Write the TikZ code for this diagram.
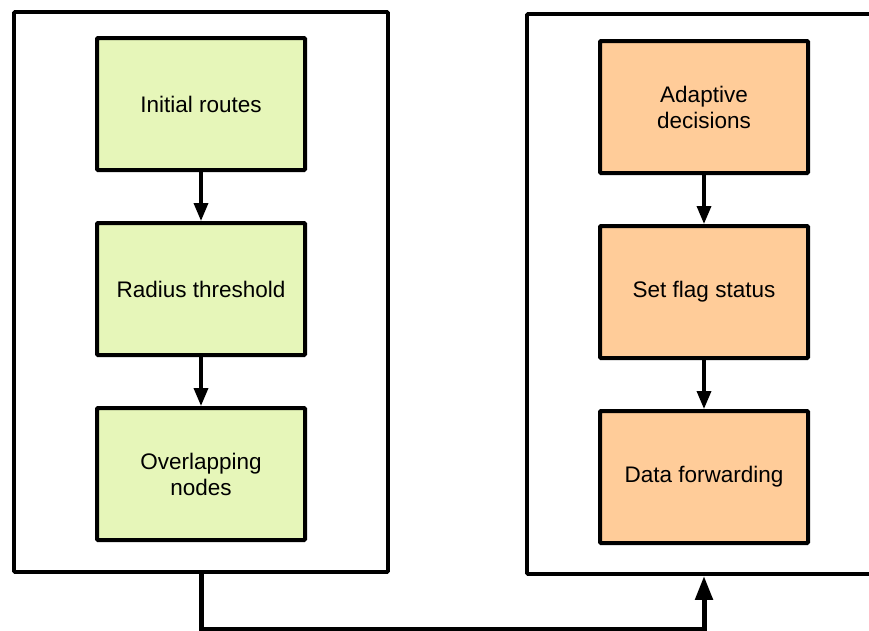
\documentclass[tikz,border=0pt]{standalone}
\usepackage{fontspec}
\setmainfont{Liberation Sans}
\usetikzlibrary{arrows.meta}
\definecolor{greenfill}{HTML}{E6F6B9}
\definecolor{orangefill}{HTML}{FFCC99}
\tikzset{
  outerbox/.style={draw, line width=3.8pt, rounded corners=1pt, inner sep=0pt},
  stepbox/.style={draw, line width=4pt, rounded corners=1pt, minimum width=208pt, minimum height=132pt, inner sep=0pt, align=center, font=\fontsize{22.5pt}{26pt}\selectfont},
  gbox/.style={stepbox, fill=greenfill},
  obox/.style={stepbox, fill=orangefill},
  flow/.style={line width=3.5pt, -{Triangle[length=18pt,width=14pt]}},
  bigflow/.style={line width=5pt, -{Triangle[length=24pt,width=17pt]}}
}
\begin{document}
\begin{tikzpicture}[x=1pt,y=-1pt]
\useasboundingbox (0,0) rectangle (869,630);
\clip (0,0) rectangle (869,630);
\node[outerbox, minimum width=374pt, minimum height=560pt] (L) at (201,292) {};
\node[outerbox, minimum width=370pt, minimum height=560pt] (R) at (712,294) {};
\node[gbox] (g1) at (201,104) {Initial routes};
\node[gbox] (g2) at (201,289) {Radius threshold};
\node[gbox] (g3) at (201,474) {Overlapping\\nodes};
\node[obox] (o1) at (704,107) {Adaptive\\decisions};
\node[obox] (o2) at (704,292) {Set flag status};
\node[obox] (o3) at (704,477) {Data forwarding};
\draw[flow] (g1) -- (g2);
\draw[flow] (g2) -- (g3);
\draw[flow] (o1) -- (o2);
\draw[flow] (o2) -- (o3);
\coordinate (a) at (L.south -| g1.center);
\coordinate (b) at (R.south -| o1.center);
\draw[bigflow] (a) -- ++(0,56) -| (b);
\end{tikzpicture}
\end{document}
